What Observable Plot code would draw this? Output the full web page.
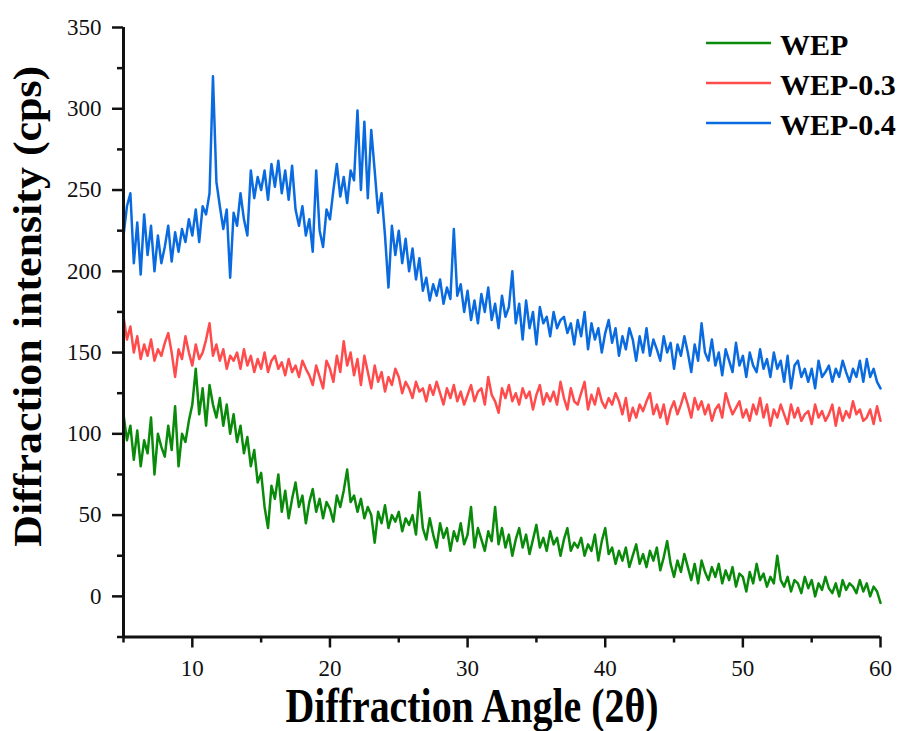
<!DOCTYPE html>
<html>
<head>
<meta charset="utf-8">
<script src="https://cdn.jsdelivr.net/npm/d3@7"></script>
<script src="https://cdn.jsdelivr.net/npm/@observablehq/plot@0.6"></script>
<style>
  html, body { margin: 0; padding: 0; background: #fff; }
  #wrap { position: relative; width: 901px; height: 731px; }
  #legend { position: absolute; left: 0; top: 0; pointer-events: none; }
</style>
</head>
<body>
<div id="wrap"></div>
<script>
// Scan grid (2θ): start 5°, step 0.25°, 221 points to 60°
const scanStart = 5;
const scanStep = 0.25;

const seriesNames = ["WEP", "WEP-0.3", "WEP-0.4"];
const seriesColors = ["#0a8a0a", "#ff4b4b", "#0a6be0"];

const wep = [
  112,96,105,84, 102,80,96,88, 110,75,100,92, 86,105,90,117, 80,100,95,108,
  118,140,112,128, 105,130,118,110, 122,105,118,100, 112,95,105,88, 98,80,90,70,
  76,55,42,68, 60,75,52,65, 48,60,70,55, 62,45,58,66, 52,60,48,58,
  54,46,62,55, 65,78,58,62, 52,60,48,55, 50,33,52,45, 56,42,50,46,
  52,40,48,44, 50,38,64,42, 35,48,38,30, 45,36,42,28, 40,34,45,32,
  38,55,30,42, 35,28,40,34, 55,32,42,30, 38,25,35,42, 30,38,26,35,
  44,30,36,28, 40,32,36,25, 35,42,28,33, 30,36,25,32, 28,38,22,34,
  42,26,30,20, 28,22,30,18, 25,32,20,26, 18,28,22,30, 16,24,34,20,
  12,22,15,26, 18,10,20,8, 22,15,10,18, 12,20,8,16, 10,18,6,14,
  12,3,15,8, 20,10,14,6, 12,8,25,10, 6,12,3,10, 8,2,12,5,
  10,0,8,4, 12,5,2,8, 0,10,4,8, 6,2,10,3, 8,0,6,3,
  -4
];

const wep03 = [
  172,158,166,150, 160,146,155,148, 158,145,152,148, 156,162,150,135, 152,146,160,150,
  142,155,146,150, 158,168,148,155, 145,152,140,148, 145,150,140,152, 142,148,138,146,
  140,150,138,145, 148,140,144,136, 146,138,142,135, 145,140,136,130, 142,135,128,145,
  140,132,148,138, 157,142,150,136, 146,130,148,138, 128,142,132,138, 126,135,130,140,
  135,125,132,128, 122,132,126,128, 120,130,124,132, 125,118,128,122, 130,120,126,118,
  124,130,120,126, 128,118,135,124, 120,113,128,122, 130,120,125,118, 128,122,126,115,
  124,130,118,125, 120,126,118,132, 122,115,128,120, 118,125,132,115, 124,118,128,120,
  116,122,118,125, 120,112,122,108, 116,110,118,114, 120,125,112,118, 110,118,106,115,
  120,112,118,125, 118,110,122,115, 120,112,118,108, 115,118,110,125, 118,112,116,120,
  110,115,108,118, 112,122,110,118, 105,115,110,118, 112,106,118,110, 116,108,112,114,
  106,118,110,114, 108,112,118,105, 116,108,114,110, 120,112,115,108, 110,115,106,117,
  108
];

const wep04 = [
  222,240,248,205, 230,198,235,210, 228,200,222,205, 215,228,206,224, 212,226,218,232,
  222,238,218,240, 235,248,320,255, 240,226,238,196, 236,228,248,232, 222,262,245,258,
  250,262,244,266, 252,268,248,262, 244,265,238,228, 240,222,232,212, 262,225,215,238,
  232,250,266,246, 258,242,262,256, 299,250,292,245, 287,262,236,248, 222,190,228,210,
  225,205,220,200, 214,195,208,188, 196,182,192,185, 195,180,190,183, 226,185,192,175,
  188,170,182,168, 186,175,190,170, 180,165,185,172, 178,200,168,180, 158,182,165,175,
  155,178,168,172, 160,175,165,170, 172,162,168,155, 170,160,175,152, 168,158,165,150,
  162,170,156,165, 148,160,152,165, 158,145,160,150, 165,148,158,152, 145,160,150,156,
  140,155,148,160, 150,138,155,145, 168,150,145,158, 142,150,136,152, 145,138,156,142,
  148,135,150,142, 138,152,140,146, 135,150,140,145, 132,148,128,142, 145,135,140,132,
  140,128,145,135, 138,142,132,140, 135,145,138,132, 140,135,145,132, 146,135,140,132,
  128
];

const xMajorTicks = [10, 20, 30, 40, 50, 60];
const xMinorTicks = [5, 15, 25, 35, 45, 55];
const yMajorTicks = [0, 50, 100, 150, 200, 250, 300, 350];
const yMinorTicks = [-25, 25, 75, 125, 175, 225, 275, 325];

const xLabel = "Diffraction Angle (2θ)";
const yLabel = "Diffraction intensity (cps)";

const rows = [];
[wep, wep03, wep04].forEach((vals, s) => {
  vals.forEach((v, i) => rows.push({angle: scanStart + i * scanStep, value: v, series: seriesNames[s]}));
});

const serif = "'Liberation Serif', 'Times New Roman', serif";

const chart = Plot.plot({
  width: 901,
  height: 731,
  marginLeft: 123,
  marginRight: 21,
  marginTop: 27,
  marginBottom: 94.5,
  style: {fontFamily: serif, background: "#fff", color: "#111"},
  x: {domain: [5, 60]},
  y: {domain: [-25, 350]},
  color: {domain: seriesNames, range: seriesColors},
  marks: [
    Plot.line(rows, {x: "angle", y: "value", z: "series", stroke: "series", strokeWidth: 2.5, strokeLinejoin: "round"}),
    Plot.axisY({ticks: yMinorTicks, tickSize: 6, text: null, strokeWidth: 2.5, label: null}),
    Plot.axisY({ticks: yMajorTicks, tickSize: 11, tickPadding: 11, fontSize: 23, strokeWidth: 2.5, label: null, tickFormat: d => String(d)}),
    Plot.axisX({ticks: xMinorTicks, tickSize: 6, text: null, strokeWidth: 2.5, label: null}),
    Plot.axisX({ticks: xMajorTicks, tickSize: 11, tickPadding: 12, fontSize: 23, strokeWidth: 2.5, label: null, tickFormat: d => String(d)}),
    Plot.ruleX([5], {strokeWidth: 3}),
    Plot.ruleY([-25], {strokeWidth: 3}),
    Plot.text([xLabel], {frameAnchor: "bottom", textAnchor: "middle", dx: -30, dy: 69.5, fontSize: 48, fontWeight: "bold", lineAnchor: "middle", className: "xlab", fill: "#000"}),
    Plot.text([yLabel], {frameAnchor: "left", textAnchor: "middle", rotate: -90, dx: -96, dy: -26, fontSize: 41, fontWeight: "bold", lineAnchor: "middle", className: "ylab", fill: "#000"})
  ]
});

chart.querySelectorAll(".xlab text").forEach(t => { t.setAttribute("textLength", 373); t.setAttribute("lengthAdjust", "spacingAndGlyphs"); });
chart.querySelectorAll(".ylab text").forEach(t => { t.setAttribute("textLength", 481); t.setAttribute("lengthAdjust", "spacingAndGlyphs"); });

const wrap = document.getElementById("wrap");
wrap.appendChild(chart);

// Legend (top-right, overlapping the plot area)
const leg = d3.select(wrap).append("svg").attr("id", "legend").attr("width", 901).attr("height", 160);
seriesNames.forEach((name, i) => {
  const yy = 43 + i * 40;
  leg.append("line").attr("x1", 706).attr("x2", 771).attr("y1", yy).attr("y2", yy)
    .attr("stroke", seriesColors[i]).attr("stroke-width", 2.5);
  leg.append("text").attr("x", 780).attr("y", yy + 12).text(name)
    .attr("font-family", serif).attr("font-weight", "bold").attr("font-size", 30).attr("fill", "#000");
});
</script>
</body>
</html>
